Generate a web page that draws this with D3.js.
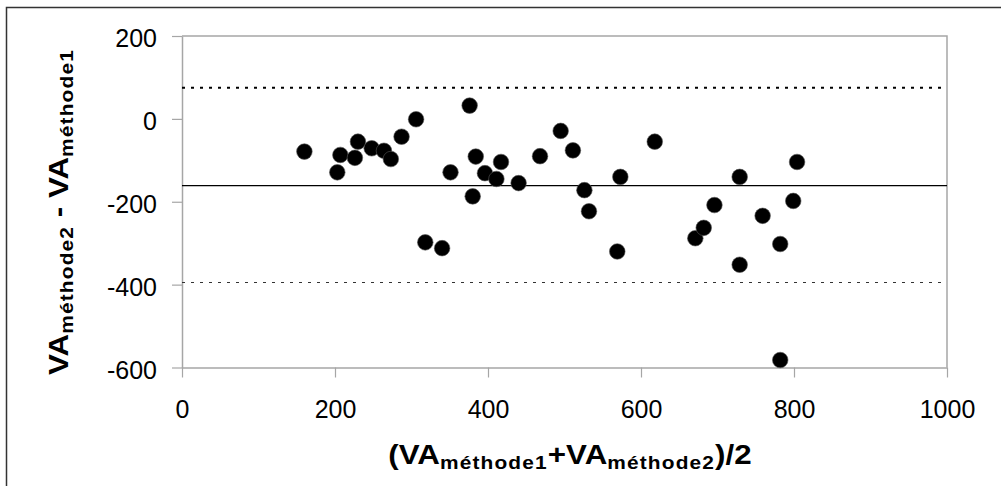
<!DOCTYPE html>
<html>
<head>
<meta charset="utf-8">
<script src="https://cdn.jsdelivr.net/npm/d3@7"></script>
<style>
  html, body { margin: 0; padding: 0; background: #fff; }
  svg { display: block; }
  text { font-family: "Liberation Sans", Arial, sans-serif; }
</style>
</head>
<body>
<svg id="chart" width="1001" height="486"></svg>
<script>
// ---- data ----
const meanVA = [160, 203, 207, 226, 230, 248, 264, 273, 287, 306, 318, 340, 351, 376, 380, 384, 396, 411,
                417, 440, 468, 495, 511, 526, 532, 573, 569, 618, 671, 682, 696, 729, 729, 759, 782, 799, 804, 782];
const diffVA = [-79, -129, -87, -94, -55, -71, -77, -97, -43, -1, -298, -312, -129, 32, -187, -91, -131, -145,
                -104, -155, -90, -29, -76, -172, -223, -140, -320, -55, -288, -263, -208, -140, -352, -234, -302, -198, -104, -582];
const meanDiff = [-161];
const upperLimit = [75];
const lowerLimit = [-395];
const xTicks = [0, 200, 400, 600, 800, 1000];
const yTicks = [-600, -400, -200, 0, 200];

// ---- layout ----
const svg = d3.select("#chart");
const pLeft = 182, pRight = 947, pTop = 36, pBottom = 367.5;

const x = d3.scaleLinear().domain([0, 1000]).range([pLeft, pRight]);
const y = d3.scaleLinear().domain([-600, 200]).range([pBottom, pTop]);

// outer frame
svg.append("path")
  .attr("d", `M6.5,486 L6.5,7.5 L1001,7.5`)
  .attr("fill", "none").attr("stroke", "#333").attr("stroke-width", 1.5);

// plot area border (top & right)
svg.append("path")
  .attr("d", `M${pLeft},${pTop} L${pRight},${pTop} L${pRight},${pBottom}`)
  .attr("fill", "none").attr("stroke", "#a6a6a6").attr("stroke-width", 1.5);

// axes
const fmt = d => String(d);
const yAxis = svg.append("g")
  .attr("transform", `translate(${pLeft},0)`)
  .call(d3.axisLeft(y).tickValues(yTicks).tickFormat(fmt).tickSize(10).tickPadding(15).tickSizeOuter(0));
const xAxis = svg.append("g")
  .attr("transform", `translate(0,${pBottom})`)
  .call(d3.axisBottom(x).tickValues(xTicks).tickFormat(fmt).tickSize(10).tickPadding(23).tickSizeOuter(0));

[yAxis, xAxis].forEach(g => {
  g.select(".domain").attr("stroke", "#a6a6a6").attr("stroke-width", 1.5);
  g.selectAll(".tick line").attr("stroke", "#a6a6a6").attr("stroke-width", 1.2);
  g.selectAll(".tick text").attr("fill", "#000")
    .style("font-family", '"Liberation Sans", Arial, sans-serif')
    .style("font-size", "25px");
});
yAxis.selectAll(".tick text").attr("dy", "0.42em");

// reference lines
svg.append("line")
  .attr("x1", pLeft).attr("x2", pRight)
  .attr("y1", y(upperLimit[0])).attr("y2", y(upperLimit[0]))
  .attr("stroke", "#000").attr("stroke-width", 2).attr("stroke-dasharray", "3,6");
svg.append("line")
  .attr("x1", pLeft).attr("x2", pRight)
  .attr("y1", y(meanDiff[0])).attr("y2", y(meanDiff[0]))
  .attr("stroke", "#000").attr("stroke-width", 1.2);
svg.append("line")
  .attr("x1", pLeft).attr("x2", pRight)
  .attr("y1", y(lowerLimit[0])).attr("y2", y(lowerLimit[0]))
  .attr("stroke", "#333").attr("stroke-width", 1.1).attr("stroke-dasharray", "3,6");

// points
svg.append("g").selectAll("circle")
  .data(meanVA.map((v, i) => [v, diffVA[i]]))
  .join("circle")
  .attr("cx", d => x(d[0]))
  .attr("cy", d => y(d[1]))
  .attr("r", 7.8)
  .attr("fill", "#000")
  .attr("stroke", "#555").attr("stroke-width", 0.6);

// axis titles
function title(g, parts) {
  const t = g.append("text")
    .attr("text-anchor", "middle")
    .style("font-weight", "bold")
    .attr("fill", "#000");
  parts.forEach(p => {
    const s = t.append("tspan").text(p.t);
    if (p.sub) {
      s.style("font-size", "18px").attr("dy", 5).style("letter-spacing", "1px");
    } else {
      s.style("font-size", "27px");
      if (p.back) s.attr("dy", -5);
    }
  });
  return t;
}

const xt = svg.append("g").attr("transform", `translate(570,464) scale(1.16,1)`);
title(xt, [
  {t: "(VA"}, {t: "méthode1", sub: true}, {t: "+VA", back: true},
  {t: "méthode2", sub: true}, {t: ")/2", back: true}
]);

const yt = svg.append("g").attr("transform", `translate(68,212) rotate(-90) scale(1.16,1)`);
title(yt, [
  {t: "VA"}, {t: "méthode2", sub: true}, {t: " - VA", back: true},
  {t: "méthode1", sub: true}
]);
</script>
</body>
</html>
